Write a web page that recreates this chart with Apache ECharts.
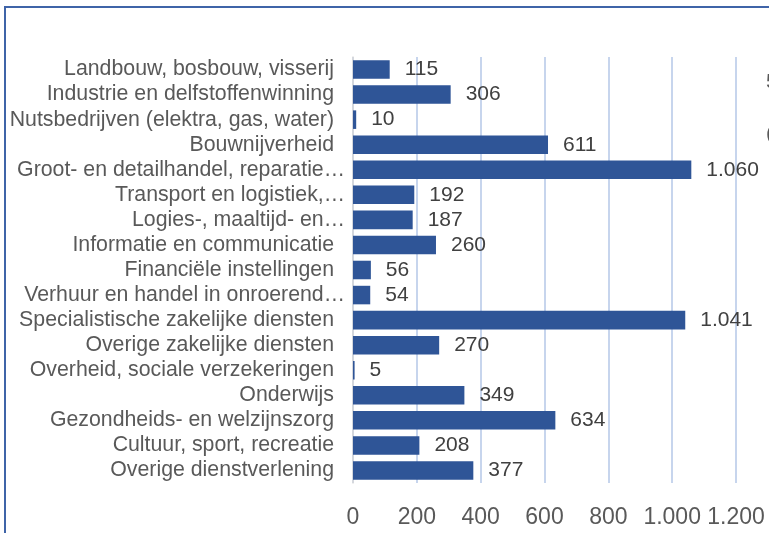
<!DOCTYPE html>
<html>
<head>
<meta charset="utf-8">
<title>Bedrijven per sector</title>
<script src="https://cdn.jsdelivr.net/npm/echarts@6/dist/echarts.min.js"></script>
<style>
	html, body { margin: 0; padding: 0; background: #fff; }
	#chart { width: 769px; height: 533px; }
</style>
</head>
<body>
<div id="chart"></div>
<script>
	// sectors top to bottom, as shown (Excel cut the long ones off)
	var sectors = [
		'Landbouw, bosbouw, visserij',
		'Industrie en delfstoffenwinning',
		'Nutsbedrijven (elektra, gas, water)',
		'Bouwnijverheid',
		'Groot- en detailhandel, reparatie\u2026',
		'Transport en logistiek,\u2026',
		'Logies-, maaltijd- en\u2026',
		'Informatie en communicatie',
		'Financi\u00eble instellingen',
		'Verhuur en handel in onroerend\u2026',
		'Specialistische zakelijke diensten',
		'Overige zakelijke diensten',
		'Overheid, sociale verzekeringen',
		'Onderwijs',
		'Gezondheids- en welzijnszorg',
		'Cultuur, sport, recreatie',
		'Overige dienstverlening'
	];
	var aantal = [115, 306, 10, 611, 1060, 192, 187, 260, 56, 54, 1041, 270, 5, 349, 634, 208, 377];
	var xTicks = [0, 200, 400, 600, 800, 1000, 1200];

	function nl(v) {
		return String(v).replace(/\B(?=(\d{3})+(?!\d))/g, '.');
	}

	var font = 'Liberation Sans, Arial, sans-serif';
	var myChart = echarts.init(document.getElementById('chart'));
	var option = {
		animation: false,
		grid: {
			left: 353,
			right: 33,
			top: 57,
			bottom: 50
		},
		xAxis: {
			type: 'value',
			min: xTicks[0],
			max: xTicks[xTicks.length - 1],
			interval: 200,
			axisLine: { show: false },
			axisTick: { show: false },
			splitLine: { lineStyle: { color: '#b4c7e7', width: 1.5 } },
			axisLabel: {
				margin: 23,
				fontFamily: font,
				fontSize: 23,
				color: '#595959',
				formatter: nl
			}
		},
		yAxis: {
			type: 'category',
			inverse: true,
			data: sectors,
			axisLine: { lineStyle: { color: '#d9d9d9', width: 1.5 } },
			axisTick: { show: false },
			axisLabel: {
				interval: 0,
				margin: 8,
				fontFamily: font,
				fontSize: 21.3,
				color: '#595959',
				// the cut-off labels run closer to the axis than the full ones
				formatter: function (v) {
					return v.slice(-1) === '\u2026' ? '{t|' + v + '}' : '{n|' + v + '}';
				},
				rich: {
					t: { fontFamily: font, fontSize: 21.3, color: '#595959' },
					n: { fontFamily: font, fontSize: 21.3, color: '#595959', padding: [0, 11, 0, 0] }
				}
			}
		},
		series: [{
			type: 'bar',
			data: aantal,
			barCategoryGap: '26%',
			itemStyle: { color: '#2f5597' },
			label: {
				show: true,
				position: 'right',
				distance: 15,
				fontFamily: font,
				fontSize: 21,
				color: '#404040',
				formatter: function (p) { return nl(p.value); }
			}
		}],
		graphic: [
			{
				type: 'rect',
				shape: { x: 5, y: 7, width: 800, height: 560 },
				style: { fill: 'none', stroke: '#3f64a8', lineWidth: 2 }
			},
			{
				type: 'text', left: 766, top: 72,
				style: { text: '5', font: '21px Liberation Sans', fill: '#595959' }
			},
			{
				type: 'text', left: 766, top: 124,
				style: { text: '(', font: '21px Liberation Sans', fill: '#595959' }
			}
		]
	};
	myChart.setOption(option);
</script>
</body>
</html>
